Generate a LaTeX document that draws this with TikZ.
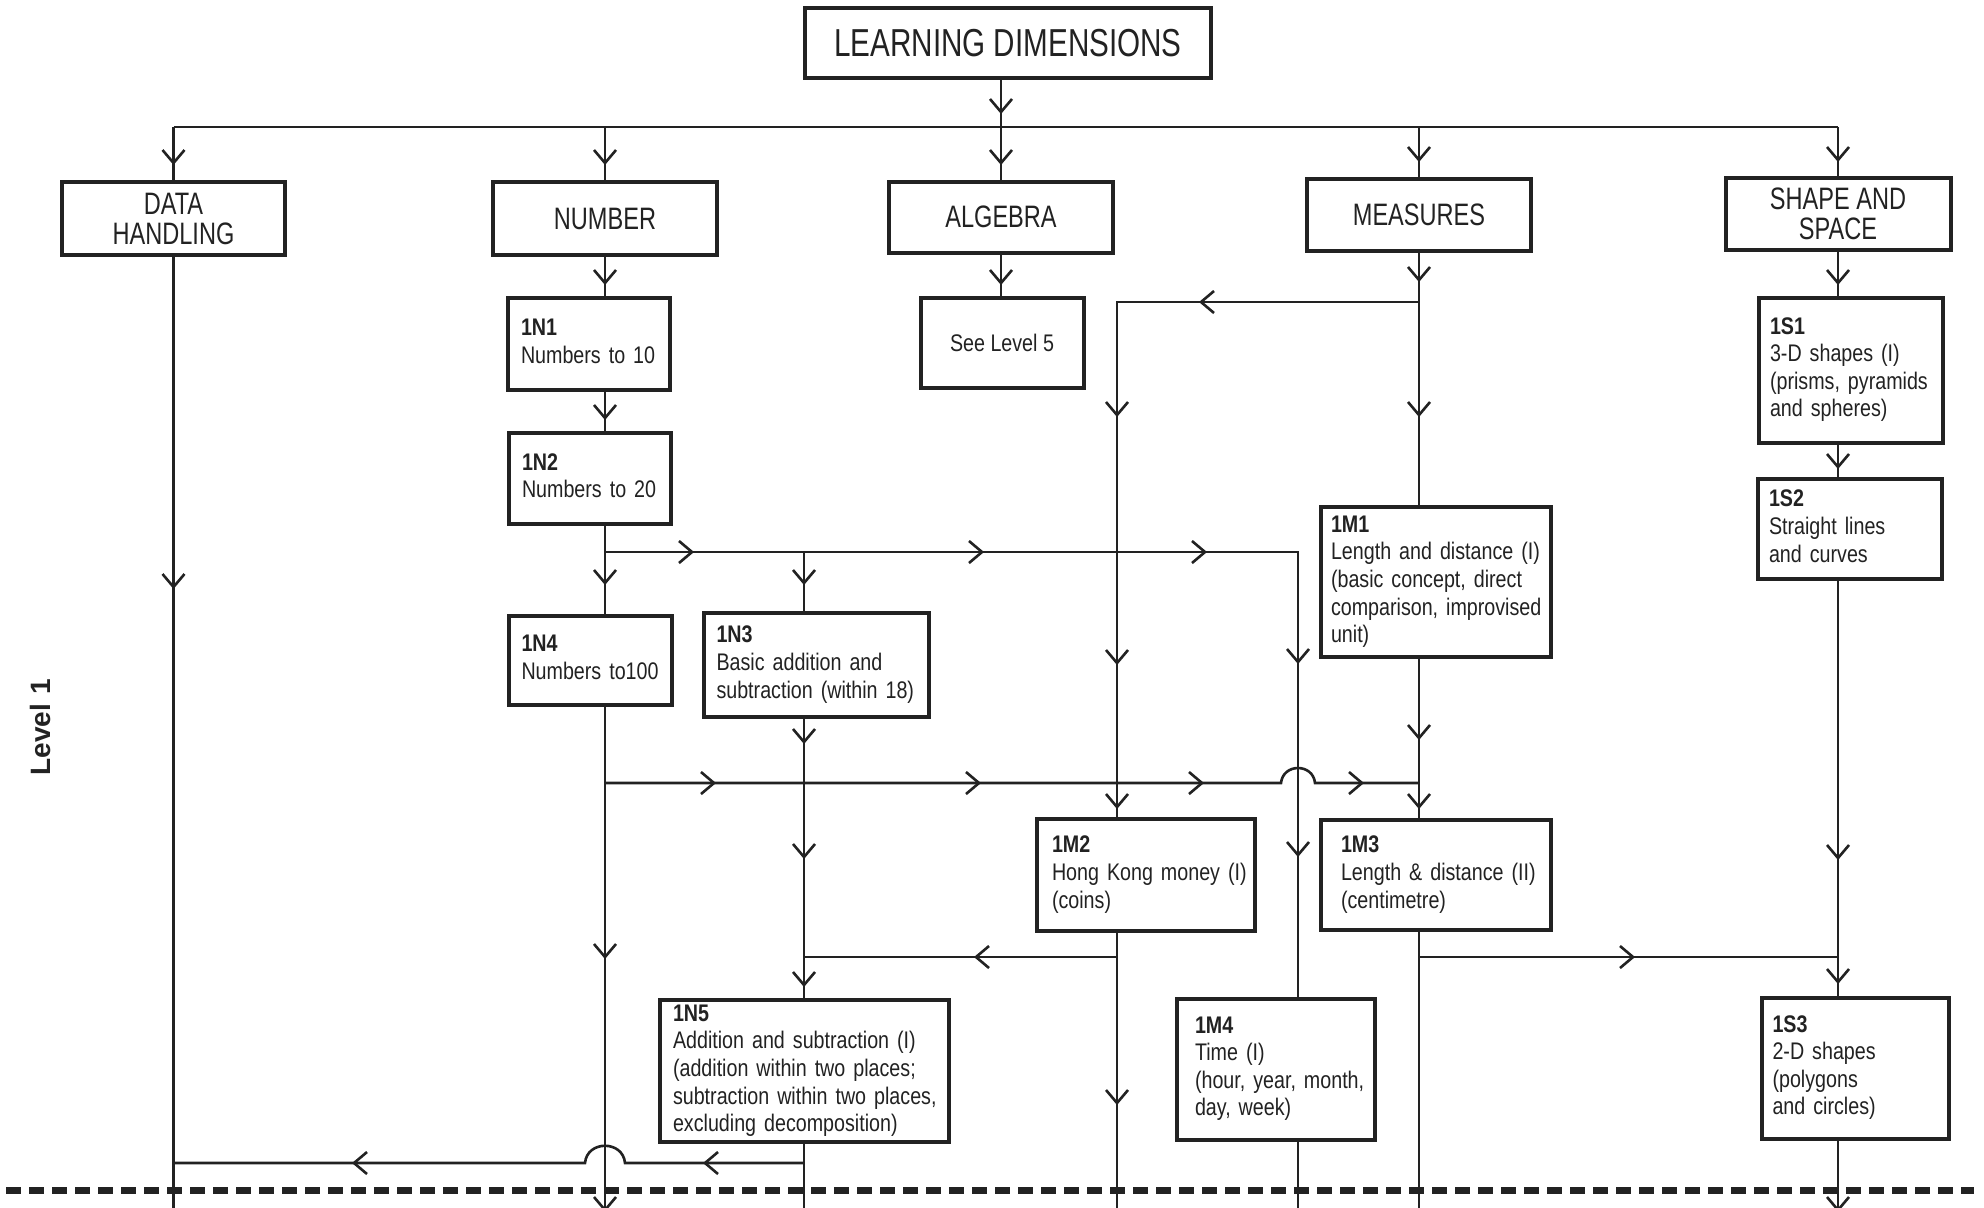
\documentclass[tikz,border=0pt]{standalone}
\usepackage{fontspec}
\setmainfont{Liberation Sans}[FakeStretch=0.82]
\newfontfamily\hdrf{Liberation Sans}[FakeStretch=0.76]
\newfontfamily\lvlf{Liberation Sans}
\definecolor{ink}{HTML}{222222}
\newcommand\bxt[2]{\begin{tabular}{@{}l@{}}\textbf{#1}\\#2\end{tabular}}
\tikzset{
  conn/.style={draw=ink, line width=1.3pt},
  hbox/.style={draw=ink, line width=2pt, fill=white, inner sep=0pt, align=center, text=ink,
               font=\hdrf\fontsize{15.5}{15}\selectfont},
  bx/.style={draw=ink, line width=2pt, fill=white, inner ysep=0pt, align=left, text=ink,
             font=\fontsize{12}{13.8}\selectfont},
  pics/adn/.style={code={\draw[conn] (-11,-13) -- (0,0) -- (11,-13);}},
  pics/art/.style={code={\draw[conn] (-13,-11) -- (0,0) -- (-13,11);}},
  pics/alf/.style={code={\draw[conn] (13,-11) -- (0,0) -- (13,11);}},
}
\begin{document}
\begin{tikzpicture}[x=0.5pt,y=-0.5pt]
\fill[white] (0,0) rectangle (1984,1207);
\useasboundingbox (0,0) rectangle (1984,1207);
\clip (0,0) rectangle (1984,1207);

% header boxes
\node[hbox, minimum width=203pt, minimum height=35pt, font=\hdrf\fontsize{19.5}{20}\selectfont] (LD) at (1008,43) {LEARNING DIMENSIONS};
\node[hbox, minimum width=111.5pt, minimum height=36.5pt] (DH) at (173.5,218.5) {DATA\\HANDLING};
\node[hbox, minimum width=112pt, minimum height=36.5pt] (NUM) at (605,218.5) {NUMBER};
\node[hbox, minimum width=112pt, minimum height=35.5pt] (ALG) at (1001,217) {ALGEBRA};
\node[hbox, minimum width=112pt, minimum height=36pt] (MEA) at (1419,215) {MEASURES};
\node[hbox, minimum width=112.5pt, minimum height=36pt] (SAS) at (1838,214) {SHAPE AND\\SPACE};

% content boxes
\node[bx, text width=68pt, inner xsep=6.5pt, minimum height=46pt] (N1) at (589,344) {\bxt{1N1}{Numbers to 10}};
\node[bx, text width=68pt, inner xsep=6.5pt, minimum height=45.5pt] (N2) at (590,478.5) {\bxt{1N2}{Numbers to 20}};
\node[bx, text width=68.5pt, inner xsep=6.5pt, minimum height=44.5pt] (N4) at (590,660) {\bxt{1N4}{Numbers to100}};
\node[bx, text width=99.5pt, inner xsep=6.5pt, minimum height=52pt] (N3) at (816,665) {\bxt{1N3}{Basic addition and\\subtraction (within 18)}};
\node[bx, align=center, inner xsep=0pt, minimum width=81.5pt, minimum height=45pt] (SL5) at (1002,343) {See Level 5};
\node[bx, text width=105pt, inner xsep=5pt, minimum height=75pt] (M1) at (1436,582) {\bxt{1M1}{Length and distance (I)\\(basic concept, direct\\comparison, improvised\\unit)}};
\node[bx, text width=81pt, inner xsep=5.5pt, minimum height=72.5pt] (S1) at (1851,370) {\bxt{1S1}{3-D shapes (I)\\(prisms, pyramids\\and spheres)}};
\node[bx, text width=81pt, inner xsep=5.5pt, minimum height=50pt] (S2) at (1850,529) {\bxt{1S2}{Straight lines\\and curves}};
\node[bx, text width=94pt, inner xsep=7.5pt, minimum height=56pt] (M2) at (1146,875) {\bxt{1M2}{Hong Kong money (I)\\(coins)}};
\node[bx, text width=95pt, inner xsep=10pt, minimum height=55pt] (M3) at (1436,875) {\bxt{1M3}{Length \& distance (II)\\(centimetre)}};
\node[bx, text width=81pt, inner xsep=9pt, minimum height=70.5pt] (M4) at (1276,1069) {\bxt{1M4}{Time (I)\\(hour, year, month,\\day, week)}};
\node[bx, text width=131.5pt, inner xsep=6.5pt, minimum height=71pt] (N5) at (804.5,1071) {\bxt{1N5}{Addition and subtraction (I)\\(addition within two places;\\subtraction within two places,\\excluding decomposition)}};
\node[bx, text width=82.5pt, inner xsep=5.5pt, minimum height=70.5pt] (S3) at (1855,1068) {\bxt{1S3}{2-D shapes\\(polygons\\and circles)}};

\node[rotate=90, text=ink, font=\lvlf\bfseries\fontsize{14}{14}\selectfont] (LVL) at (40,727) {Level\hspace{5pt}1};

% coordinates
\coordinate (busL) at (173.5,127);
\coordinate (busR) at (1838,127);
\coordinate (busA) at (1001,127);
\coordinate (j1) at (605,552);
\coordinate (j1m) at (804,552);
\coordinate (j1r) at (1298,552);
\coordinate (jm) at (1419,302);
\coordinate (jml) at (1117,302);
\coordinate (j2) at (605,783);
\coordinate (j2r) at (1419,783);
\coordinate (hop1) at (1298,783);
\coordinate (j3) at (1117,957);
\coordinate (j4) at (1419,957);
\coordinate (j5) at (804,1163);
\coordinate (hop2) at (605,1163);
\coordinate (bDH) at (173.5,1215);
\coordinate (bN) at (605,1215);
\coordinate (bN3) at (804,1215);
\coordinate (bMl) at (1117,1215);
\coordinate (bT) at (1298,1215);
\coordinate (bM) at (1419,1215);
\coordinate (bS) at (1838,1215);

% connectors
\draw[conn] (LD.south -| busA) -- (busA);
\draw[conn] (busL) -- (busR);
\draw[conn] (busL) -- (DH.north);
\draw[conn] (NUM.north |- busL) -- (NUM.north);
\draw[conn] (busA) -- (ALG.north);
\draw[conn] (MEA.north |- busL) -- (MEA.north);
\draw[conn] (busR) -- (SAS.north);

\draw[conn] (ALG.south) -- (ALG.south |- SL5.north);
\draw[conn] (NUM.south) -- (NUM.south |- N1.north);
\draw[conn] (NUM.south |- N1.south) -- (NUM.south |- N2.north);
\draw[conn] (NUM.south |- N2.south) -- (j1) -- (NUM.south |- N4.north);
\draw[conn] (j1) -- (j1r) -- (j1r |- M4.north);
\draw[conn] (j1m) -- (j1m |- N3.north);
\draw[conn] (j1m |- N3.south) -- (j1m |- N5.north);
\draw[conn] (NUM.south |- N4.south) -- (bN);

\draw[conn] (MEA.south) -- (jm) -- (MEA.south |- M1.north);
\draw[conn] (jm) -- (jml) -- (jml |- M2.north);
\draw[conn] (j2) -- ([xshift=-8.5pt]hop1) .. controls ([xshift=-7.5pt,yshift=10pt]hop1) and ([xshift=7.5pt,yshift=10pt]hop1) .. ([xshift=8.5pt]hop1) -- (j2r);
\draw[conn] (MEA.south |- M1.south) -- (j2r) -- (MEA.south |- M3.north);
\draw[conn] (jml |- M2.south) -- (bMl);
\draw[conn] (j3) -- (j1m |- j3);
\draw[conn] (MEA.south |- M3.south) -- (bM);
\draw[conn] (j4) -- (SAS.south |- j4);
\draw[conn] (j1r |- M4.south) -- (bT);
\draw[conn] (j1m |- N5.south) -- (bN3);
\draw[conn] (j5) -- ([xshift=10pt]hop2) .. controls ([xshift=9pt,yshift=11.5pt]hop2) and ([xshift=-9pt,yshift=11.5pt]hop2) .. ([xshift=-10pt]hop2) -- (busL |- j5);
\draw[conn] (DH.south) -- (bDH);

\draw[conn] (SAS.south) -- (SAS.south |- S1.north);
\draw[conn] (SAS.south |- S1.south) -- (SAS.south |- S2.north);
\draw[conn] (SAS.south |- S2.south) -- (SAS.south |- S3.north);
\draw[conn] (SAS.south |- S3.south) -- (bS);

% arrow marks
\foreach \p in {(1001,112),(173.5,163),(605,163),(1001,163),(1419,160),(1838,160),
  (605,283),(1001,283),(1419,280),(1838,283),(605,418),(605,583),(804,583),
  (1298,662),(1298,855),(804,742),(804,857),(804,985),(605,957),(605,1210),
  (1419,415),(1117,415),(1117,663),(1117,807),(1419,738),(1419,807),(1117,1103),
  (1838,467),(1838,858),(1838,982),(1838,1210),(173.5,587)}
  \pic at \p {adn};
\foreach \p in {(692,552),(982,552),(1205,552),(714,783),(979,783),(1202,783),(1362,783),(1633,957)}
  \pic at \p {art};
\foreach \p in {(1201,302),(976,957),(705,1163),(354,1163)}
  \pic at \p {alf};

% level separator
\draw[ink, line width=3.5pt, dash pattern=on 7.5pt off 4pt] (6,1190) -- (1974,1190);
\end{tikzpicture}
\end{document}
